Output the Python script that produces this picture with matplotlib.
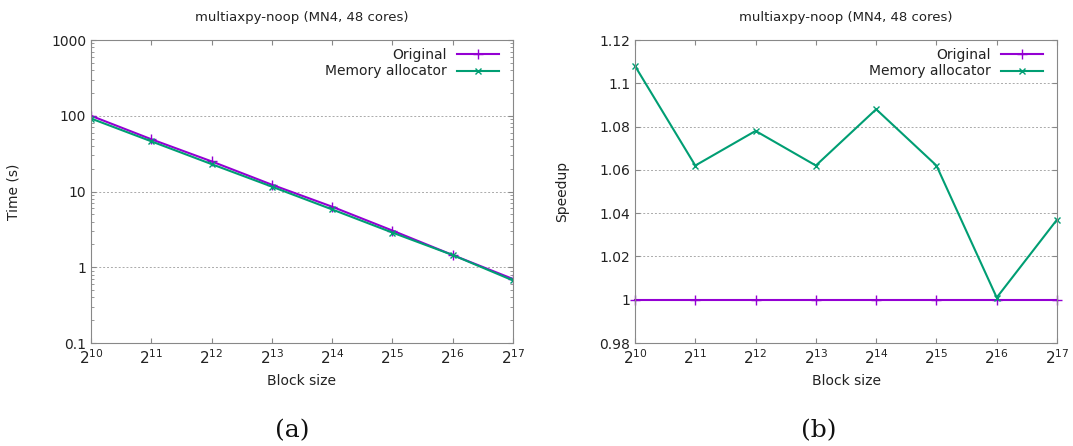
import numpy as np
import matplotlib.pyplot as plt
from matplotlib.ticker import FixedLocator, LogLocator, NullFormatter

# Block sizes as powers of two
exponents = [10, 11, 12, 13, 14, 15, 16, 17]
block_size = [2 ** e for e in exponents]
xtick_labels = [r"$2^{%d}$" % e for e in exponents]

# Panel (a): time in seconds
time_original = [100, 49, 25, 12.3, 6.3, 3.05, 1.45, 0.70]
time_memalloc = [92, 46, 23, 11.6, 5.8, 2.87, 1.45, 0.67]

# Panel (b): speedup over original
speedup_original = [1, 1, 1, 1, 1, 1, 1, 1]
speedup_memalloc = [1.108, 1.062, 1.078, 1.062, 1.088, 1.062, 1.001, 1.037]

title = "multiaxpy-noop (MN4, 48 cores)"
purple = "#9400d3"
green = "#009e73"
frame = "#888888"
txt = "#222222"

plt.rcParams["font.family"] = "DejaVu Sans"
plt.rcParams["font.size"] = 10
plt.rcParams["mathtext.default"] = "regular"

fig = plt.figure(figsize=(10.73, 4.46), dpi=100)
ax1 = fig.add_axes([0.0848, 0.2309, 0.3933, 0.6794])
ax2 = fig.add_axes([0.5918, 0.2309, 0.3933, 0.6794])


def style(ax):
    ax.set_xscale("log", base=2)
    ax.set_xlim(block_size[0], block_size[-1])
    ax.xaxis.set_major_locator(FixedLocator(block_size))
    ax.set_xticks(block_size)
    ax.set_xticklabels(xtick_labels, fontsize=11, color=txt)
    ax.xaxis.set_minor_formatter(NullFormatter())
    ax.minorticks_off()
    for s in ax.spines.values():
        s.set_color(frame)
    ax.tick_params(which="both", direction="in", top=True, right=True,
                   colors=frame, labelcolor=txt)
    ax.tick_params(axis="x", pad=4)
    ax.grid(axis="y", which="major", linestyle=(0, (2, 2)), color="#aaaaaa",
            linewidth=0.7)
    ax.set_axisbelow(True)
    ax.set_title(title, fontsize=9.5, color=txt, pad=14)
    ax.set_xlabel("Block size", color=txt, labelpad=5)


# (a) time
ax1.plot(block_size, time_original, color=purple, marker="+", markersize=7,
         linewidth=1.5, label="Original")
ax1.plot(block_size, time_memalloc, color=green, marker="x", markersize=5,
         linewidth=1.5, label="Memory allocator")
ax1.set_yscale("log")
ax1.set_ylim(0.1, 1000)
style(ax1)
ax1.set_yticks([0.1, 1, 10, 100, 1000])
ax1.set_yticklabels(["0.1", "1", "10", "100", "1000"])
ax1.yaxis.set_minor_locator(LogLocator(base=10, subs=np.arange(2, 10)))
ax1.yaxis.set_minor_formatter(NullFormatter())
ax1.tick_params(axis="y", which="minor", direction="in", length=2,
                right=True, colors=frame)
ax1.set_ylabel("Time (s)", color=txt, labelpad=22)

# (b) speedup
ax2.plot(block_size, speedup_original, color=purple, marker="+", markersize=7,
         linewidth=1.5, label="Original", clip_on=False)
ax2.plot(block_size, speedup_memalloc, color=green, marker="x", markersize=5,
         linewidth=1.5, label="Memory allocator", clip_on=False)
ax2.set_ylim(0.98, 1.12)
style(ax2)
yt = [0.98, 1.0, 1.02, 1.04, 1.06, 1.08, 1.1, 1.12]
ax2.set_yticks(yt)
ax2.set_yticklabels(["0.98", "1", "1.02", "1.04", "1.06", "1.08", "1.1", "1.12"])
ax2.set_ylabel("Speedup", color=txt, labelpad=22)

for ax in (ax1, ax2):
    leg = ax.legend(loc="upper right", frameon=False, markerfirst=False,
                    handlelength=3.0, borderaxespad=0.25, labelspacing=0.2,
                    fontsize=10, borderpad=0.3)
    for t in leg.get_texts():
        t.set_color(txt)
        t.set_ha("right")
    leg.set_bbox_to_anchor((0.985, 1.0), transform=ax.transAxes)

fig.text(0.2725, 0.02, "(a)", fontsize=18, family="DejaVu Serif",
         ha="center", color="#111111")
fig.text(0.7635, 0.02, "(b)", fontsize=18, family="DejaVu Serif",
         ha="center", color="#111111")

fig.savefig("out.png", dpi=100)
